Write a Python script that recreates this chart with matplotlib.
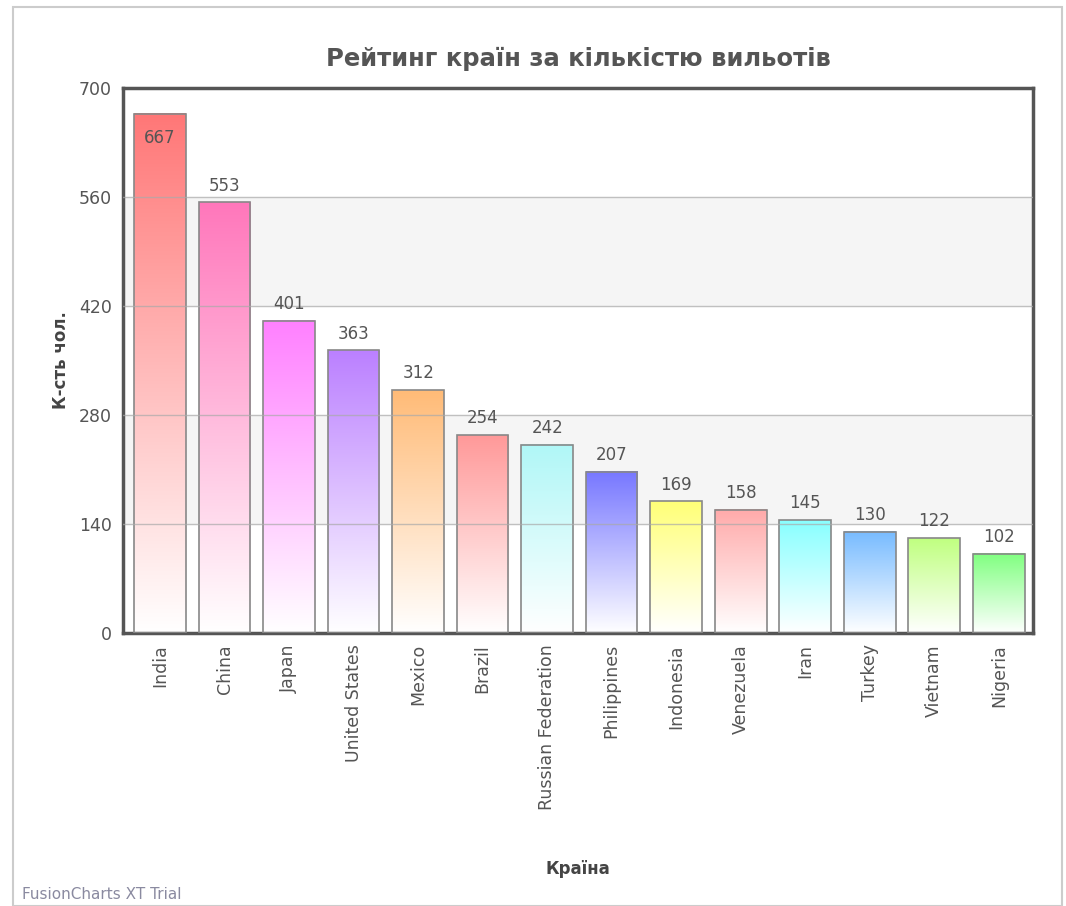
import numpy as np
import matplotlib.pyplot as plt
from matplotlib.colors import to_rgb
from matplotlib.patches import Rectangle

# Дані
countries = ['India', 'China', 'Japan', 'United States', 'Mexico', 'Brazil',
             'Russian Federation', 'Philippines', 'Indonesia', 'Venezuela',
             'Iran', 'Turkey', 'Vietnam', 'Nigeria']
values = [667, 553, 401, 363, 312, 254, 242, 207, 169, 158, 145, 130, 122, 102]
colors = ['#ff7777', '#ff77bb', '#ff80ff', '#bb80ff', '#ffbb77', '#ff9999',
          '#b0f7f7', '#7777ff', '#ffff77', '#ffaaaa', '#88ffff', '#77bbff',
          '#c0ff80', '#80ff80']
yticks = [0, 140, 280, 420, 560, 700]

fig = plt.figure(figsize=(10.66, 9.06), dpi=100)
ax = fig.add_axes([0.1154, 0.3013, 0.854, 0.6016])

# рамка всього графіка
fig.patches.append(Rectangle((0.012, 0.0), 0.984, 0.992, transform=fig.transFigure,
                             fill=False, edgecolor='#cccccc', linewidth=1.5))

x = np.arange(len(countries))
width = 0.8
xlim = (-0.574, 13.536)

# смуги фону
for i in range(len(yticks) - 1):
    if i % 2 == 1:
        ax.axhspan(yticks[i], yticks[i + 1], color='#f5f5f5', zorder=0)

grad = np.linspace(0, 1, 256)
for xi, v, c in zip(x, values, colors):
    r, g, b = to_rgb(c)
    img = np.ones((256, 1, 3))
    img[:, 0, 0] = 1 - (1 - r) * grad
    img[:, 0, 1] = 1 - (1 - g) * grad
    img[:, 0, 2] = 1 - (1 - b) * grad
    ax.imshow(img, extent=[xi - width / 2, xi + width / 2, 0, v], origin='lower',
              aspect='auto', zorder=2, interpolation='bilinear')
    ax.bar(xi, v, width=width, facecolor='none', edgecolor='#888888',
           linewidth=1.2, zorder=3)
    if v > 640:
        ax.text(xi, v - 20, str(v), ha='center', va='top', fontsize=12,
                color='#555555', zorder=5)
    else:
        ax.text(xi, v + 10, str(v), ha='center', va='bottom', fontsize=12,
                color='#555555', zorder=5)

for t in yticks[1:-1]:
    ax.axhline(t, color='#aaaaaa', linewidth=1, alpha=0.7, zorder=4)

ax.set_xlim(*xlim)
ax.set_ylim(0, 700)
ax.set_yticks(yticks)
ax.set_yticklabels([str(t) for t in yticks], fontsize=12.5, color='#555555')
ax.set_xticks(x)
ax.set_xticklabels(countries, rotation=90, fontsize=12.5, color='#555555')
ax.tick_params(axis='both', length=0, pad=8)
for s in ax.spines.values():
    s.set_color('#555555')
    s.set_linewidth(2.5)

ax.set_ylabel('К-сть чол.', fontsize=12, fontweight='bold', color='#444444', labelpad=6)
ax.set_xlabel('Країна', fontsize=12, fontweight='bold', color='#444444', labelpad=36)
ax.set_title('Рейтинг країн за кількістю вильотів', fontsize=17.5, fontweight='bold',
             color='#555555', pad=16)

fig.text(0.021, 0.008, 'FusionCharts XT Trial', fontsize=11, color='#8a8aa0')

fig.savefig('out.png', dpi=100)
